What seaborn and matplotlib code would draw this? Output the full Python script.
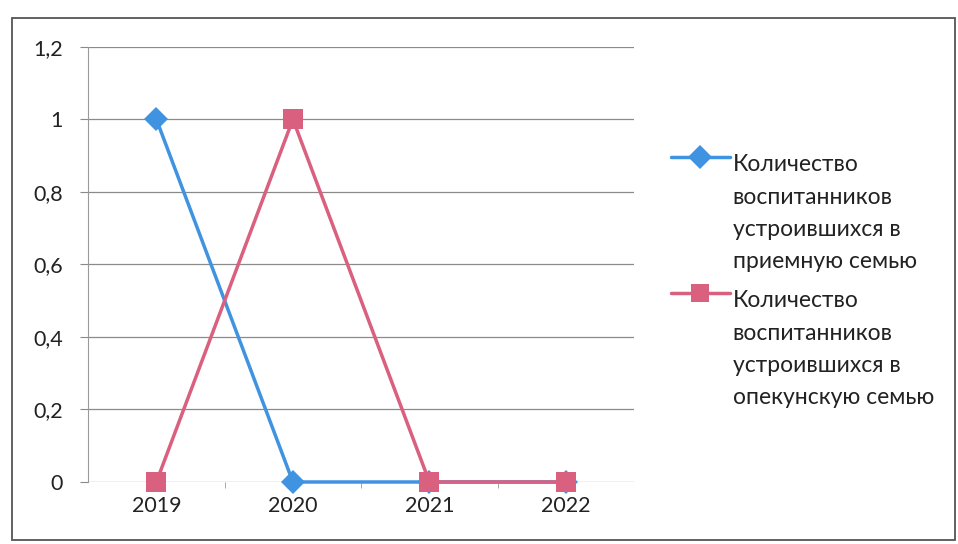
import matplotlib
matplotlib.use("Agg")
import matplotlib.pyplot as plt
import matplotlib.ticker as mticker
from matplotlib.patches import Rectangle
import pandas as pd
import seaborn as sns

# Данные
years = ["2019", "2020", "2021", "2022"]
priemnaya = [1, 0, 0, 0]
opekunskaya = [0, 1, 0, 0]
labels = ["Количество\nвоспитанников\nустроившихся в\nприемную семью",
          "Количество\nвоспитанников\nустроившихся в\nопекунскую семью"]
colors = ["#3f93e0", "#d9607f"]

df = pd.DataFrame({"year": years * 2,
                   "value": priemnaya + opekunskaya,
                   "series": [labels[0]] * 4 + [labels[1]] * 4})

sns.set_style("white")
plt.rcParams["font.family"] = ["Lato", "DejaVu Sans"]

fig = plt.figure(figsize=(9.58, 5.44), dpi=100)
ax = fig.add_axes([0.092, 0.114, 0.57, 0.8])

sns.lineplot(data=df, x="year", y="value", hue="series", style="series",
             markers={labels[0]: "D", labels[1]: "s"}, dashes=False,
             palette=colors, linewidth=2.5, markersize=14,
             markeredgewidth=0, ax=ax)
for line in ax.lines:
    line.set_clip_on(False)
    if line.get_marker() == "D":
        line.set_markersize(12)

ax.set_xlim(-0.5, 3.5)
ax.set_ylim(0, 1.2)
ax.yaxis.set_major_locator(mticker.MultipleLocator(0.2))
ax.yaxis.set_major_formatter(mticker.FuncFormatter(
    lambda v, p: ("%g" % round(v, 1)).replace(".", ",")))
ax.grid(axis="y", color="#8a8a8a", linewidth=0.9)
ax.grid(axis="x", visible=False)
ax.set_xlabel("")
ax.set_ylabel("")
for side in ["top", "right", "bottom"]:
    ax.spines[side].set_visible(False)
ax.spines["left"].set_color("#9a9a9a")
ax.set_xticks([0, 1, 2, 3])
ax.set_xticks([0.5, 1.5, 2.5], minor=True)
ax.tick_params(axis="x", which="major", length=0, labelsize=15.5, pad=10, colors="#222222")
ax.tick_params(axis="x", which="minor", length=4, color="#9a9a9a", bottom=True)
ax.tick_params(axis="y", length=6, labelsize=15.5, colors="#222222", left=True,
               color="#8a8a8a", pad=12)

leg = ax.legend(loc="upper left", bbox_to_anchor=(1.029, 0.80), frameon=False,
                fontsize=16.5, handlelength=2.6, labelspacing=0.8, handletextpad=0.1)
for t in leg.get_texts():
    t.set_linespacing(1.66)
    t.set_color("#222222")
# маркер легенды на уровне первой строки
for h in leg.legend_handles:
    h.set_ydata([y + 41 for y in h.get_ydata()])
    h.set_linewidth(2.5)
    h.set_markersize(12 if h.get_marker() == "D" else 13)

# рамка диаграммы
fig.patches.append(Rectangle((0.013, 0.008), 0.984, 0.958, transform=fig.transFigure,
                             fill=False, edgecolor="#555555", linewidth=1.3))

fig.savefig("out.png", dpi=100)
